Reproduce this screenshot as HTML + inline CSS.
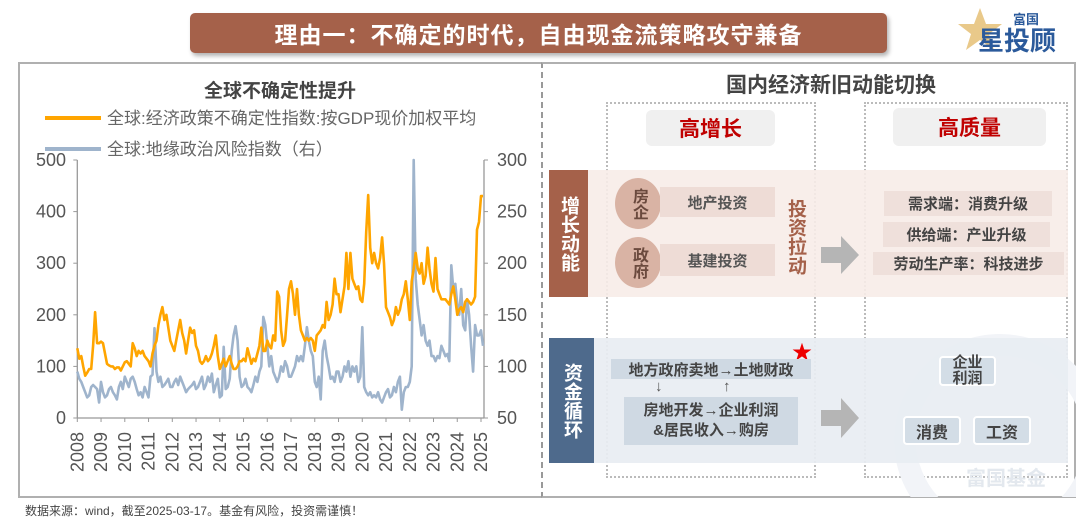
<!DOCTYPE html>
<html><head><meta charset="utf-8">
<style>
body{margin:0;width:1080px;height:517px;background:#fff;overflow:hidden;position:relative;font-family:"Liberation Sans","Noto Sans CJK SC",sans-serif}
.a{position:absolute;box-sizing:border-box}
.c{display:flex;align-items:center;justify-content:center;text-align:center}
</style></head><body>
<div class="a c" style="left:190px;top:13px;width:697px;height:40px;background:#a5614a;border-radius:5px;box-shadow:2px 3px 4px rgba(0,0,0,.3);color:#fff;font-size:23px;font-weight:bold;letter-spacing:1px">理由一：不确定的时代，自由现金流策略攻守兼备</div>
<div class="a" style="left:958px;top:4px;width:110px;height:52px">
<svg width="110" height="52"><polygon points="22,4 28,20 44,20 31,30 36,46 22,36 8,46 13,30 0,20 16,20" fill="#e9c98a"/>
<text x="55" y="20" font-size="13" font-weight="bold" fill="#2b5a9b" font-family="Noto Sans CJK SC">富国</text>
<text x="20" y="46" font-size="26" font-weight="bold" fill="#2b5a9b" font-family="Noto Sans CJK SC">星投顾</text></svg></div>

<div class="a" style="left:18px;top:62px;width:523px;height:436px;border:2px solid #b0b0b0;border-right:none"></div>
<div class="a" style="left:541px;top:62px;width:535px;height:436px;border:2px solid #b0b0b0;border-left:2px dashed #999"></div>

<svg class="a" id="chart" style="left:0;top:0" width="545" height="500"></svg>

<div class="a" style="left:25px;top:502px;font-size:12px;color:#444">数据来源：wind，截至2025-03-17。基金有风险，投资需谨慎！</div>

<div class="a c" style="left:700px;top:70px;width:262px;height:28px;font-size:21px;font-weight:bold;color:#444">国内经济新旧动能切换</div>
<div class="a" style="left:606px;top:102px;width:210px;height:376px;border:2px dotted #bbb"></div>
<div class="a" style="left:864px;top:102px;width:204px;height:376px;border:2px dotted #bbb"></div>
<div class="a c" style="left:646px;top:110px;width:129px;height:36px;background:#f0f0f0;border-radius:6px;color:#c00000;font-size:21px;font-weight:bold">高增长</div>
<div class="a c" style="left:893px;top:108px;width:153px;height:38px;background:#f0f0f0;border-radius:6px;color:#c00000;font-size:21px;font-weight:bold">高质量</div>

<div class="a" style="left:549px;top:170px;width:519px;height:127px;background:#f7ece8;opacity:.9"></div>
<div class="a c" style="left:549px;top:170px;width:39px;height:127px;background:#a5614a;color:#fff;font-size:19px;font-weight:bold;line-height:23px;writing-mode:vertical-rl">增长动能</div>
<div class="a c" style="left:615px;top:178px;width:46px;height:51px;border-radius:50%;background:#d9b3a4;color:#6b4a3e;font-size:16px;font-weight:bold;line-height:18px;writing-mode:vertical-rl">房企</div>
<div class="a c" style="left:615px;top:237px;width:46px;height:51px;border-radius:50%;background:#d9b3a4;color:#6b4a3e;font-size:16px;font-weight:bold;line-height:18px;writing-mode:vertical-rl">政府</div>
<div class="a c" style="left:660px;top:187px;width:115px;height:30px;background:#eedcd6;color:#555;font-size:15px;font-weight:bold">地产投资</div>
<div class="a c" style="left:660px;top:244px;width:115px;height:32px;background:#eedcd6;color:#555;font-size:15px;font-weight:bold">基建投资</div>
<div class="a c" style="left:782px;top:190px;width:26px;height:94px;color:#a5614a;font-size:19px;font-weight:bold;line-height:24px;writing-mode:vertical-rl">投资拉动</div>
<svg class="a" style="left:821px;top:236px" width="38" height="38"><polygon points="0,11 20,11 20,0 38,19 20,38 20,27 0,27" fill="#b5b5b5"/></svg>
<div class="a c" style="left:884px;top:191px;width:168px;height:25px;background:#efe0db;color:#444;font-size:15px;font-weight:bold">需求端：消费升级</div>
<div class="a c" style="left:883px;top:222px;width:167px;height:25px;background:#efe0db;color:#444;font-size:15px;font-weight:bold">供给端：产业升级</div>
<div class="a c" style="left:873px;top:252px;width:191px;height:23px;background:#efe0db;color:#444;font-size:15px;font-weight:bold">劳动生产率：科技进步</div>

<svg class="a" style="left:880px;top:315px" width="196" height="182"><circle cx="120" cy="125" r="95" fill="none" stroke="#f2f4f8" stroke-width="22"/></svg>
<div class="a" style="left:549px;top:338px;width:519px;height:125px;background:#e8edf2;opacity:.92"></div>
<div class="a c" style="left:549px;top:338px;width:45px;height:125px;background:#4e6a8c;color:#fff;font-size:19px;font-weight:bold;line-height:23px;writing-mode:vertical-rl">资金循环</div>
<div class="a" style="left:792px;top:336px;color:#e00;font-size:20px">★</div>
<div class="a c" style="left:611px;top:359px;width:200px;height:20px;background:#cfd9e3;color:#444;font-size:15px;font-weight:bold">地方政府卖地→土地财政</div>
<div class="a" style="left:655px;top:378px;color:#555;font-size:15px">↓</div>
<div class="a" style="left:723px;top:378px;color:#555;font-size:15px">↑</div>
<div class="a c" style="left:624px;top:397px;width:174px;height:48px;background:#cfd9e3;color:#444;font-size:15px;font-weight:bold;line-height:20px">房地开发→企业利润<br>&amp;居民收入→购房</div>
<svg class="a" style="left:821px;top:398px" width="38" height="40"><polygon points="0,12 20,12 20,0 38,20 20,40 20,28 0,28" fill="#b5b5b5"/></svg>
<div class="a c" style="left:939px;top:356px;width:57px;height:30px;background:#d3dde6;border:2px solid #fff;border-radius:4px;color:#444;font-size:15px;font-weight:bold;line-height:16px">企业<br>利润</div>
<div class="a c" style="left:903px;top:416px;width:58px;height:29px;background:#d3dde6;border:2px solid #fff;border-radius:4px;color:#444;font-size:16px;font-weight:bold">消费</div>
<div class="a c" style="left:973px;top:416px;width:58px;height:29px;background:#d3dde6;border:2px solid #fff;border-radius:4px;color:#444;font-size:16px;font-weight:bold">工资</div>
<div class="a" style="left:966px;top:462px;color:#e3e8ee;font-size:20px;font-weight:bold">富国基金</div>

<script>
const years=["2008","2009","2010","2011","2012","2013","2014","2015","2016","2017","2018","2019","2020","2021","2022","2023","2024","2025"];
const leftTicks=[0,100,200,300,400,500];
const rightTicks=[50,100,150,200,250,300];
const epu=[135,115,120,100,82,88,95,95,140,205,145,145,
148,145,125,105,102,100,100,95,98,98,92,100,
108,110,105,100,145,135,120,130,125,130,120,115,
110,100,125,140,150,180,200,215,190,200,175,150,
140,130,150,170,190,165,150,125,150,175,165,170,
140,130,110,105,110,120,110,115,125,140,160,120,
95,105,115,100,110,120,105,95,95,100,110,110,
115,110,135,120,105,115,110,125,140,175,130,130,
150,140,135,160,150,245,235,170,140,150,200,250,
265,240,200,250,200,170,160,150,155,150,155,150,
130,160,165,170,180,175,225,190,200,220,270,240,
240,205,230,255,320,250,320,270,260,250,255,230,
225,260,360,432,330,300,320,300,290,310,350,300,
215,205,195,180,190,215,200,210,230,240,265,230,
190,265,290,320,290,280,300,260,275,330,290,260,
245,310,250,240,230,230,230,225,220,240,255,230,
200,210,215,205,225,230,225,220,225,235,365,380,
430,430];
const gpr=[95,88,85,80,75,70,72,80,82,80,78,65,
85,75,70,72,78,80,75,72,68,80,85,78,
90,85,80,88,90,85,78,72,75,70,80,75,
70,90,92,137,95,85,90,80,82,85,88,80,
80,85,88,82,90,85,80,75,78,80,82,85,
78,80,85,90,78,82,90,85,93,75,82,88,
70,72,119,78,80,88,115,130,139,125,90,80,
82,88,80,78,75,82,90,85,95,100,148,140,
120,100,110,95,90,85,90,100,95,105,100,90,
90,95,100,110,105,110,105,120,138,125,115,110,
85,80,90,68,115,125,110,100,88,90,85,95,
95,85,90,100,95,105,90,100,95,100,85,90,
138,80,75,72,75,70,72,70,75,68,65,70,
75,78,70,72,80,75,85,90,58,75,80,80,
85,100,300,185,160,145,130,140,125,120,125,110,
110,105,110,108,120,115,110,112,105,198,175,180,
160,150,175,140,135,165,150,120,95,140,130,130,
135,120];
const X0=77.3,X1=481,Y0=418,Y1=160;
const xS=t=>X0+(t-2008)*(X1-X0)/17;
const yL=v=>Y0-(v/500)*(Y0-Y1);
const yR=v=>Y0-((v-50)/250)*(Y0-Y1);
const svg=document.getElementById('chart');
const NS='http://www.w3.org/2000/svg';
function mk(tag,attrs){const e=document.createElementNS(NS,tag);for(const k in attrs)e.setAttribute(k,attrs[k]);svg.appendChild(e);return e;}
let t=mk('text',{x:280,y:97,'text-anchor':'middle','font-size':19,'font-weight':'bold',fill:'#444'});t.textContent='全球不确定性提升';


let l=mk('line',{x1:45,x2:101,y1:118,y2:118,stroke:'#ffa500','stroke-width':4});


t=mk('text',{x:107,y:124,'font-size':17,fill:'#666'});t.textContent='全球:经济政策不确定性指数:按GDP现价加权平均';


l=mk('line',{x1:45,x2:101,y1:149,y2:149,stroke:'#9fb4cc','stroke-width':4});


t=mk('text',{x:107,y:155,'font-size':17,fill:'#666'});t.textContent='全球:地缘政治风险指数（右）';


mk('line',{x1:X0,x2:X0,y1:Y1,y2:Y0,stroke:'#999','stroke-width':1.3});
mk('line',{x1:484,x2:484,y1:Y1,y2:Y0,stroke:'#999','stroke-width':1.3});
mk('line',{x1:X0,x2:484,y1:Y0,y2:Y0,stroke:'#999','stroke-width':1.3});
leftTicks.forEach(v=>{mk('line',{x1:X0-4,x2:X0,y1:yL(v),y2:yL(v),stroke:'#999'});
 const e=mk('text',{x:66,y:yL(v)+6,'text-anchor':'end','font-size':18,fill:'#555'});e.textContent=v;
 
 });
rightTicks.forEach(v=>{mk('line',{x1:484,x2:488,y1:yR(v),y2:yR(v),stroke:'#999'});
 const e=mk('text',{x:497,y:yR(v)+6,'font-size':18,fill:'#555'});e.textContent=v;
 
 });
years.forEach((y,i)=>{const x=xS(2008+i);mk('line',{x1:x,x2:x,y1:Y0,y2:Y0+4,stroke:'#999'});
 const e=mk('text',{x:0,y:0,'text-anchor':'end','font-size':18,fill:'#555',transform:`translate(${x+6},${Y0+14}) rotate(-90)`});e.textContent=y;
 
 });
const pts=(arr,f)=>arr.map((v,i)=>xS(2008+i/12).toFixed(1)+','+f(v).toFixed(1)).join(' ');
const pg=mk('polyline',{points:pts(gpr,yR),fill:'none',stroke:'#9fb4cc','stroke-width':2.6,'stroke-linejoin':'round'});


const pe=mk('polyline',{points:pts(epu,yL),fill:'none',stroke:'#ffa500','stroke-width':2.6,'stroke-linejoin':'round'});


</script>
</body></html>
